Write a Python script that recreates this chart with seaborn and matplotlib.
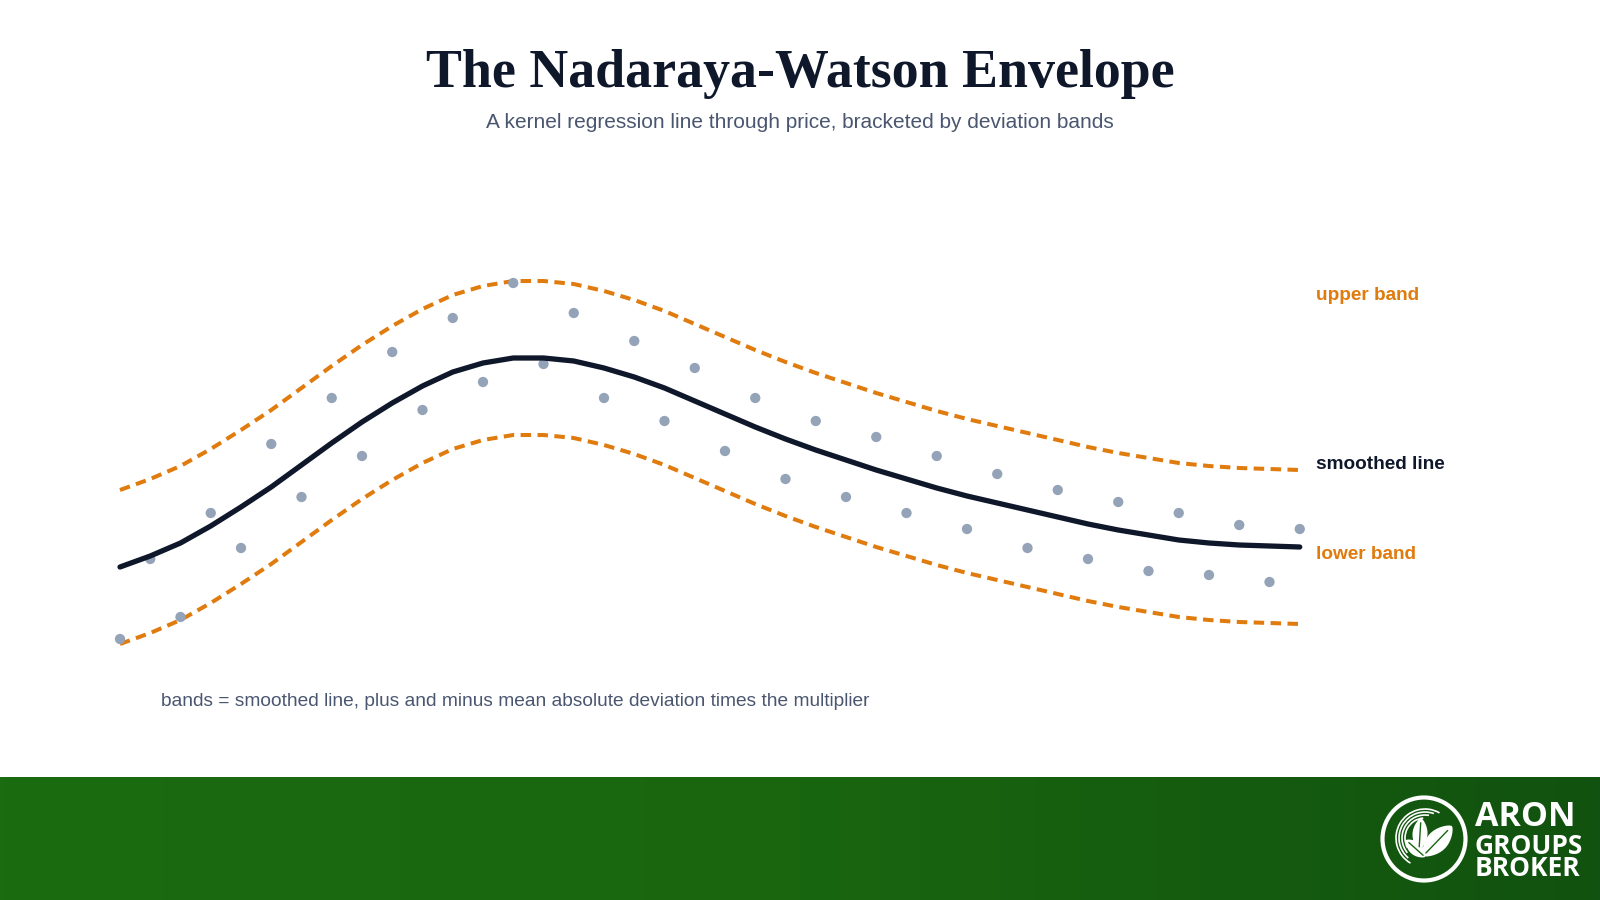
import numpy as np
import matplotlib.pyplot as plt
import seaborn as sns
from matplotlib.patches import Circle, Arc, Polygon
from matplotlib.colors import LinearSegmentedColormap

# bar index along the x axis
bars = list(range(40))

# closing prices (grey dots)
price = [96.1, 104.1, 98.3, 108.7, 105.2, 115.6, 110.3, 120.2, 114.4, 124.8,
         119.0, 128.2, 121.8, 131.7, 123.6, 128.7, 120.2, 125.9, 117.9, 123.2,
         114.9, 120.2, 112.1, 117.9, 110.3, 116.3, 108.7, 114.4, 107.1, 112.6,
         105.2, 111.0, 104.1, 109.8, 102.9, 108.7, 102.5, 107.5, 101.8, 107.1]

# kernel regression (smoothed line)
smoothed = [103.3, 104.4, 105.7, 107.4, 109.3, 111.3, 113.5, 115.7, 117.8, 119.7,
            121.4, 122.8, 123.7, 124.2, 124.2, 123.9, 123.2, 122.3, 121.2, 119.9,
            118.6, 117.3, 116.1, 115.0, 114.0, 113.0, 112.1, 111.2, 110.4, 109.7,
            109.0, 108.3, 107.6, 107.0, 106.5, 106.0, 105.7, 105.5, 105.4, 105.3]

# mean absolute deviation times the multiplier
band_width = 7.7

upper = [v + band_width for v in smoothed]
lower = [v - band_width for v in smoothed]

NAVY = "#0f172a"
ORANGE = "#e07b0e"
DOT = "#94a3b8"
SLATE = "#4a5670"
GREEN = "#19660f"

sns.set_theme(style="white")
plt.rcParams['font.family'] = ['Liberation Sans', 'DejaVu Sans']

fig = plt.figure(figsize=(16, 9), dpi=100)
fig.patch.set_facecolor("white")

# main chart axes spans the whole figure
ax = fig.add_axes([0, 0, 1, 1])
ax.set_xlim(-120 / 30.25, 1480 / 30.25)
ax.set_ylim(70, 160)
ax.axis("off")

dash = (0, (2.6, 1.6))
sns.lineplot(x=bars, y=upper, ax=ax, color=ORANGE, lw=2.9, linestyle=dash, zorder=1)
sns.lineplot(x=bars, y=lower, ax=ax, color=ORANGE, lw=2.9, linestyle=dash, zorder=1)
sns.scatterplot(x=bars, y=price, ax=ax, color=DOT, s=55, edgecolor="none", zorder=2)
sns.lineplot(x=bars, y=smoothed, ax=ax, color=NAVY, lw=3.8, zorder=3)
for line in ax.lines:
    line.set_solid_joinstyle("round")
    line.set_dash_joinstyle("round")

# titles and labels
fig.text(0.5, 1 - 86.7 / 900, "The Nadaraya-Watson Envelope", ha="center", va="baseline",
         fontsize=38.8, fontweight="bold", color=NAVY, family=["Liberation Serif", "DejaVu Serif"])
fig.text(0.5, 1 - 128 / 900, "A kernel regression line through price, bracketed by deviation bands",
         ha="center", va="baseline", fontsize=15, color=SLATE)

fig.text(1316 / 1600, 1 - 300 / 900, "upper band", ha="left", va="baseline",
         fontsize=13.7, fontweight="bold", color=ORANGE)
fig.text(1316 / 1600, 1 - 469 / 900, "smoothed line", ha="left", va="baseline",
         fontsize=13.7, fontweight="bold", color=NAVY)
fig.text(1316 / 1600, 1 - 559 / 900, "lower band", ha="left", va="baseline",
         fontsize=13.7, fontweight="bold", color=ORANGE)

fig.text(161 / 1600, 1 - 706 / 900,
         "bands = smoothed line, plus and minus mean absolute deviation times the multiplier",
         ha="left", va="baseline", fontsize=13.75, color=SLATE)

# green footer with gradient
foot = fig.add_axes([0, 0, 1, 123 / 900])
cmap = LinearSegmentedColormap.from_list("foot", ["#1b6b11", "#19660f", "#115210"])
foot.imshow(np.linspace(0, 1, 256).reshape(1, -1), cmap=cmap, aspect="auto",
            extent=[0, 1600, 900, 777])
foot.set_xlim(0, 1600)
foot.set_ylim(900, 777)
foot.axis("off")


def leaf(base, tip, width, rib_color):
    # pointed leaf outline between base and tip, with a thin midrib
    bx, by = base
    tx, ty = tip
    t = np.linspace(0, 1, 40)
    dx, dy = tx - bx, ty - by
    n = np.hypot(dx, dy)
    px, py = -dy / n, dx / n
    half = width / 2 * np.sin(np.pi * t) ** 0.7
    xs = bx + dx * t
    ys = by + dy * t
    pts = np.r_[np.c_[xs + px * half, ys + py * half], np.c_[xs - px * half, ys - py * half][::-1]]
    foot.add_patch(Polygon(pts, closed=True, color="white", lw=0))
    foot.plot([bx + dx * 0.1, bx + dx * 0.85], [by + dy * 0.1, by + dy * 0.85],
              color=rib_color, lw=1)


# logo emblem
cx, cy = 1424, 839
foot.add_patch(Circle((cx, cy), 41.5, fill=False, ec="white", lw=3))
for r, t1, t2 in [(29, 120, 300), (26, 130, 290), (23, 140, 280), (20, 150, 265)]:
    foot.add_patch(Arc((cx + 1, cy - 1), 2 * r, 2 * r, theta1=t1, theta2=t2, color="white", lw=1.2))
leaf((1419, 850), (1421, 818), 15, GREEN)
leaf((1423, 856), (1452, 826), 21, GREEN)
leaf((1425, 857), (1406, 840), 13, GREEN)

logo_font = ["Open Sans", "DejaVu Sans"]
foot.text(1475, 826, "ARON", ha="left", va="baseline", fontsize=24.5, fontweight="bold",
          color="white", family=logo_font)
foot.text(1475, 876, "GROUPS\nBROKER", ha="left", va="baseline", fontsize=19, fontweight="bold",
          color="white", family=logo_font, linespacing=0.78)

fig.savefig("out.png", dpi=100)
